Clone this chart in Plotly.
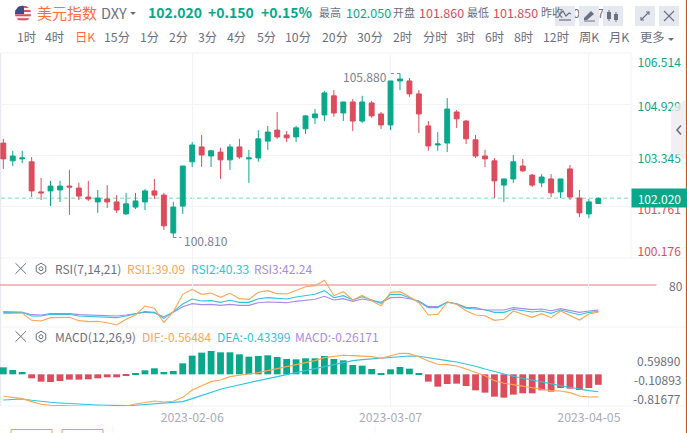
import numpy as np
import plotly.graph_objects as go

W, H = 687, 433

# ---- data ----
opens = [103.73,103.18,103.24,103.15,102.22,102.25,102.28,102.40,102.34,102.06,101.91,102.00,101.91,101.54,101.75,101.91,102.25,102.12,100.95,101.78,103.15,103.61,103.33,103.45,103.21,103.61,103.24,103.27,103.79,104.13,103.98,103.92,104.17,104.51,104.60,105.19,104.66,105.00,104.41,104.97,104.63,104.29,105.65,105.65,105.25,104.26,103.67,103.73,104.69,104.41,103.83,103.33,103.18,102.43,102.62,103.02,102.74,102.50,102.62,102.22,102.93,102.03,101.54,101.86]
highs = [103.86,103.49,103.49,103.30,102.65,102.56,102.56,102.90,102.50,102.56,102.28,102.43,102.12,102.19,102.19,102.31,102.62,102.19,101.91,103.02,103.76,103.98,103.52,103.58,103.70,103.86,103.52,104.13,104.26,104.69,104.10,104.26,104.60,104.78,105.34,105.37,105.00,105.09,105.19,105.03,104.69,105.65,105.88,105.74,105.37,104.41,104.07,105.12,104.75,104.44,103.98,103.52,103.27,102.62,103.36,103.24,102.77,102.77,102.77,102.62,103.05,102.28,102.00,102.05]
lows = [102.93,103.02,103.11,102.06,101.97,101.78,101.91,101.51,101.97,101.94,101.57,101.72,101.57,101.51,101.69,101.66,102.00,101.04,100.81,101.54,102.99,102.99,102.99,102.62,102.90,103.24,102.50,103.15,103.52,103.86,103.76,103.76,104.01,104.32,104.41,104.54,104.41,104.10,104.35,104.51,104.17,104.13,105.37,105.16,104.04,103.49,103.49,103.45,104.20,103.70,103.27,102.99,102.03,101.91,102.50,102.84,102.37,102.37,102.06,102.03,101.97,101.44,101.41,101.85]
closes = [103.24,103.33,103.27,102.25,102.19,102.40,102.40,102.37,102.09,102.00,102.03,101.91,101.66,101.85,101.94,102.25,102.12,101.17,101.75,103.02,103.67,103.36,103.49,103.21,103.61,103.30,103.27,103.86,104.07,103.92,103.89,104.20,104.57,104.63,105.28,104.66,105.00,104.41,105.00,104.57,104.29,105.65,105.71,105.25,104.63,103.64,103.70,104.78,104.48,103.86,103.33,103.24,102.56,102.62,103.15,102.87,102.43,102.68,102.19,102.62,102.06,101.57,101.91,102.02]

rsi1 = [37,38,38,27,26,31,31.5,31.5,26.5,25,25.5,23.5,20,28.5,35,48.5,45,23.5,40,66,73.5,66,68,61.5,67.5,59.5,58.5,69,71.5,67,66.5,72.5,77.5,79,87,64,70,57.5,64.5,56.5,49,69,70,62.5,53.5,35,36,54,51,41.5,35,34,27,28.5,41,36,31.5,37,31,41,34,27.5,36.5,39.09]
rsi2 = [39,39,39,33.5,33.5,36,36,36,33.5,33,33,32,31,33.5,37,40,39,30,40,51.5,59,56,56.5,54,57,54,54,59.5,61,59.5,59,62,64,66,71.5,61,64,57.5,62.5,57.5,52.5,66,66,61,55,46,46,54.5,51.5,45,43.5,43,39,39,43.5,41.5,39.5,41,37.5,42.5,38.5,35.5,39,40.33]
rsi3 = [40,40,39,35.5,35,37,37,37,35.5,35,35,34.5,33.5,35,37,39,38,32.5,39,47.5,52,50.5,51,49.5,51,49.5,49.5,53.5,54.5,53.5,53.5,55.5,57,58.5,63,57.5,59.5,55.5,59,56,54,61,61.5,59.5,56,47.5,47.5,54.5,52,46.5,46,42.5,42.5,42.5,46,44.5,43,44,41.5,44.5,41.5,39,41,42.24]

dif = [-.55,-.583,-.608,-.683,-.75,-.775,-.783,-.792,-.8,-.808,-.808,-.808,-.808,-.792,-.742,-.7,-.667,-.692,-.675,-.575,-.392,-.283,-.183,-.142,-.058,-.025,0,.042,.092,.142,.192,.225,.275,.342,.417,.442,.475,.467,.45,.442,.4,.467,.525,.517,.442,.333,.25,.242,.208,.133,.05,-.033,-.158,-.225,-.258,-.3,-.35,-.375,-.408,-.417,-.458,-.542,-.567,-.56484]
dea = [-.642,-.625,-.617,-.65,-.683,-.7,-.717,-.733,-.742,-.758,-.767,-.775,-.783,-.783,-.775,-.758,-.742,-.725,-.717,-.683,-.608,-.525,-.442,-.375,-.317,-.258,-.208,-.158,-.108,-.058,-.008,.033,.075,.125,.183,.233,.292,.342,.367,.383,.392,.408,.442,.458,.45,.408,.375,.342,.308,.258,.2,.133,.067,0,-.05,-.1,-.15,-.2,-.242,-.283,-.325,-.375,-.408,-.43399]
macd = [.175,.108,.058,-.1,-.183,-.192,-.167,-.133,-.133,-.125,-.1,-.075,-.075,-.025,.033,.1,.15,.058,.083,.275,.467,.542,.583,.55,.55,.5,.442,.458,.475,.433,.383,.375,.4,.4,.458,.383,.35,.233,.217,.133,.025,.125,.183,.142,.017,-.183,-.308,-.242,-.233,-.292,-.4,-.458,-.558,-.583,-.508,-.475,-.475,-.4,-.433,-.342,-.358,-.392,-.342,-.26171]

date_pos = [20, 41, 62]
date_labels = ["2023-02-06", "2023-03-07", "2023-04-05"]
price_ticks = [106.514, 104.929, 103.345, 101.761, 100.176]
price_labels = ["106.514", "104.929", "103.345", "101.761", "100.176"]
macd_labels = ["0.59890", "-0.10893", "-0.81677"]
periods = ["1时","4时","日K","15分","1分","2分","3分","4分","5分","10分","20分","30分","2时","分时","3时","6时","8时","12时","周K","月K","更多"]
period_x = [16,44,74,103,139,168,197,226,255.5,284,320.5,356,392,421.5,455,484,512.5,542,578,608,639]
prev_close_label = "101.870"

n = len(closes)
assert all(len(a) == n for a in [opens, highs, lows, rsi1, rsi2, rsi3, dif, dea, macd])

GREEN, RED = "#0aa88a", "#dc4c5c"
ORANGE, CYAN, PURPLE = "#ffa552", "#2ec5dd", "#a68bea"
GRAY, GRID = "#6b6f82", "#f2f3f8"
FONT = "Noto Sans CJK SC"

px = lambda x: x / W
py = lambda y: 1 - y / H
price_to_px = lambda v: 53 + (price_ticks[0] - v) * 205 / (price_ticks[0] - price_ticks[-1])

xs = list(range(n))
fig = go.Figure()
fig.add_trace(go.Candlestick(x=xs, open=opens, high=highs, low=lows, close=closes, yaxis="y", whiskerwidth=0,
    increasing=dict(line=dict(color=GREEN, width=1), fillcolor=GREEN),
    decreasing=dict(line=dict(color=RED, width=1), fillcolor=RED), hoverinfo="skip"))
for name, vals, col in [("RSI3", rsi3, PURPLE), ("RSI2", rsi2, CYAN), ("RSI1", rsi1, ORANGE)]:
    fig.add_trace(go.Scatter(x=xs, y=vals, yaxis="y2", mode="lines", name=name, line=dict(color=col, width=1.1), cliponaxis=False))
fig.add_trace(go.Bar(x=xs, y=macd, yaxis="y3", width=0.72, name="MACD",
                     marker=dict(color=[GREEN if v >= 0 else RED for v in macd], line=dict(width=0))))
fig.add_trace(go.Scatter(x=xs, y=dea, yaxis="y3", mode="lines", name="DEA", line=dict(color=CYAN, width=1.1), cliponaxis=False))
fig.add_trace(go.Scatter(x=xs, y=dif, yaxis="y3", mode="lines", name="DIF", line=dict(color=ORANGE, width=1.1), cliponaxis=False))

# text that sits beneath the header buttons and the edge handle, on a full-page overlay axis
fig.add_trace(go.Scatter(x=[566], y=[14.5], xaxis="x2", yaxis="y4", mode="text", text=[prev_close_label], textposition="middle right",
                         textfont=dict(color=GRAY, size=12.5, family=FONT), cliponaxis=False))
for v, lab in zip(price_ticks, price_labels):
    col = GREEN if v > closes[-1] else RED
    sh = {106.514: 10.5, 100.176: -5}.get(v, 4)
    fig.add_trace(go.Scatter(x=[637.5], y=[price_to_px(v) + sh], xaxis="x2", yaxis="y4", mode="text", text=[lab], textposition="middle right",
                             textfont=dict(color=col, size=12, family=FONT), cliponaxis=False))

ann, shp = [], []

def T(x, y, s, color=GRAY, size=12, anchor="left", weight=None):
    txt = f"<b>{s}</b>" if weight else s
    ann.append(dict(x=px(x), y=py(y - 0.5), xref="paper", yref="paper", text=txt, showarrow=False, xanchor=anchor,
                    yanchor="middle", font=dict(color=color, size=size, family=FONT), borderpad=0))

def P(pts, color=GRAY, width=1.2, fill=None, close=False, layer="above"):
    d = "M" + " L".join(f"{px(a):.5f},{py(b):.5f}" for a, b in pts) + (" Z" if close else "")
    shp.append(dict(type="path", path=d, xref="paper", yref="paper", layer=layer,
                    line=dict(color=color, width=width) if width else dict(width=0),
                    fillcolor=fill if fill else "rgba(0,0,0,0)"))

def chord(cx, cy, r, y0, y1, color, xmax=None):
    """region of a circle between two horizontal lines"""
    ys = np.linspace(y0, y1, 8)
    halves = np.sqrt(np.maximum(r**2 - (ys - cy)**2, 0))
    right = cx + halves if xmax is None else np.minimum(cx + halves, xmax)
    pts = list(zip(cx - halves, ys)) + list(zip(right[::-1], ys[::-1]))
    P(pts, width=0, fill=color, close=True)

# flag
cx, cy, r = 23, 13.5, 8
chord(cx, cy, r, cy - r, cy + r, "#f4f0f0")
for k in range(4):
    chord(cx, cy, r, cy - r + 0.5 + 4.1 * k, cy - r + 2.5 + 4.1 * k, "#d9505f")
chord(cx, cy, r, cy - r, cy + 0.5, "#3f4c86", xmax=cx + 1)

# header text
T(36, 13, "美元指数", "#ff6d3f", 15)
T(100, 13, "DXY", GRAY, 14.5)
P([(130, 12), (136, 12), (133, 15)], GRAY, 0, GRAY, True)
T(146.5, 13, "102.020", GREEN, 14, weight=True)
T(207, 13, "+0.150", GREEN, 14, weight=True)
T(260, 13, "+0.15%", GREEN, 14, weight=True)
T(318, 13, "最高", GRAY, 11)
T(345, 13, "102.050", GREEN, 12.5)
T(391.5, 13, "开盘", GRAY, 11)
T(418, 13, "101.860", RED, 12.5)
T(465.5, 13, "最低", GRAY, 11)
T(492, 13, "101.850", RED, 12.5)
T(540, 13, "昨收", GRAY, 11)

# buttons
for bx in [555, 579, 603, 635, 659]:
    shp.append(dict(type="rect", xref="paper", yref="paper", x0=px(bx), x1=px(bx + 20), y0=py(26), y1=py(6),
                    layer="above", fillcolor="#e6e8ef", line=dict(width=0)))
P([(559, 15), (563, 11), (566, 16), (569, 13), (571, 14)], GRAY, 1.2)
P([(559, 20), (571, 20)], GRAY, 1.2)
P([(584, 18), (591, 11), (594, 14), (587, 20), (584, 20)], GRAY, 0, GRAY, True)
P([(584, 21), (595, 21)], GRAY, 1)
P([(609, 10), (609, 21)], GRAY, 1)
P([(616, 12), (616, 22)], GRAY, 1)
P([(607, 12), (611, 12), (611, 19), (607, 19)], GRAY, 0, GRAY, True)
P([(614, 14), (618, 14), (618, 20), (614, 20)], GRAY, 0, GRAY, True)
P([(641, 20), (645, 16)], GRAY, 1.1); P([(649, 12), (645, 16)], GRAY, 1.1)
P([(641, 17), (641, 20), (644, 20)], GRAY, 1.1); P([(646, 12), (649, 12), (649, 15)], GRAY, 1.1)
P([(664, 11), (674, 21)], GRAY, 1.1); P([(674, 11), (664, 21)], GRAY, 1.1)

# period row
for lab, x in zip(periods, period_x):
    T(x, 37.5, lab, "#ff6d3f" if lab == "日K" else GRAY, 12.3)
P([(668, 38), (674, 38), (671, 41)], GRAY, 0, GRAY, True)

# frame lines
for y, x1 in [(53, 631), (258, 686), (327, 686), (406, 683)]:
    P([(1, y), (x1, y)], GRID, 1, layer="below")
P([(631, 53), (631, 258)], GRID, 1, layer="below")
P([(0.5, 53), (0.5, 406)], "#e9ebf4", 1.5, layer="below")
P([(686.5, 0), (686.5, H)], "#c0591a", 1.2)

# last-price dashed line
shp.append(dict(type="line", xref="paper", yref="y", x0=px(1), x1=px(631), y0=closes[-1], y1=closes[-1], layer="below",
                line=dict(color="#a8e6cf", width=1.5, dash="4px,3px")))

# 80 line of RSI
shp.append(dict(type="line", xref="paper", yref="y2", x0=0, x1=px(656.5), y0=80, y1=80, layer="below",
                line=dict(color="#f6a3ab", width=1.6)))

# extreme labels
hi, lo = int(np.argmax(highs)), int(np.argmin(lows))
for idx, val, sign, lab, gap, shift in [(hi, highs[hi], -1, "105.880", 1.15, -3), (lo, lows[lo], 1, "100.810", 0.95, -3)]:
    shp.append(dict(type="line", xref="x", yref="y", x0=idx, x1=idx + sign * gap * 0.9, y0=val, y1=val, layer="above",
                    line=dict(color="#85889a", width=1, dash="dot")))
    ann.append(dict(x=idx + sign * gap, y=val, xref="x", yref="y", text=lab, showarrow=False,
                    xanchor="right" if sign < 0 else "left", yanchor="middle", yshift=shift,
                    font=dict(color="#7d8093", size=12, family=FONT)))

# handle at the right edge, translucent over the price labels
shp.append(dict(type="path", xref="paper", yref="paper", layer="above", line=dict(width=0), fillcolor="rgba(233,234,240,0.75)",
                path="M" + " L".join(f"{px(a):.5f},{py(b):.5f}" for a, b in [(686, 100), (671, 108), (671, 152), (686, 160)]) + " Z"))
P([(681, 125.5), (677, 130), (681, 134.5)], GRAY, 1.6)

ann.append(dict(x=px(631), y=closes[-1], xref="paper", yref="y", text=f"{closes[-1]:.3f}", showarrow=False, xanchor="left",
                yanchor="middle", width=55, height=18, bgcolor=GREEN, align="center", borderpad=0,
                font=dict(color="white", size=12, family=FONT)))

# right-hand labels of lower panels
T(668, 285.7, "80", GRAY, 12)
T(681.5, 360.7, macd_labels[0], GRAY, 12, "right")
T(681.5, 380, macd_labels[1], GRAY, 12, "right")
T(681.5, 398.7, macd_labels[2], GRAY, 12, "right")

# indicator titles
for y, title, items in [
    (268.7, "RSI(7,14,21)", [(126, f"RSI1:{rsi1[-1]:.2f}", ORANGE), (190, f"RSI2:{rsi2[-1]:.2f}", CYAN), (253, f"RSI3:{rsi3[-1]:.2f}", PURPLE)]),
    (336.7, "MACD(12,26,9)", [(141, f"DIF:{dif[-1]:.5f}", ORANGE), (216, f"DEA:{dea[-1]:.5f}", CYAN), (294, f"MACD:{macd[-1]:.5f}", PURPLE)]),
]:
    P([(15.5, y - 5.5), (26, y + 5)], GRAY, 1); P([(26, y - 5.5), (15.5, y + 5)], GRAY, 1)
    hexa = [(41 + 5.5 * np.sin(a), y + 5.5 * np.cos(a)) for a in np.arange(6) * np.pi / 3]
    P(hexa, GRAY, 1, close=True)
    hexb = [(41 + 2 * np.sin(a), y + 2 * np.cos(a)) for a in np.arange(8) * np.pi / 4]
    P(hexb, GRAY, 1, close=True)
    T(54, y, title, GRAY, 12)
    for x, s, c in items:
        T(x, y, s, c, 12)

# bottom stubs
for a, b in [(11, 52), (62, 103)]:
    P([(a, 434), (a, 429.5), (b, 429.5), (b, 434)], "#d9a860", 1)
P([(113, 425), (113, 433)], GRID, 1); P([(375, 425), (375, 433)], GRID, 1)

fig.update_layout(
    width=W, height=H, autosize=False, margin=dict(l=0, r=0, t=0, b=0),
    paper_bgcolor="white", plot_bgcolor="rgba(0,0,0,0)", showlegend=False, barmode="overlay", boxgap=0.26, hovermode=False,
    font=dict(family=FONT),
    xaxis=dict(domain=[0, px(631)], range=[-0.35, 66.46], anchor="y3", tickvals=date_pos, ticktext=date_labels,
               tickfont=dict(color="#a9abbd", size=12.3, family=FONT), ticks="", showline=False, zeroline=False,
               ticklabelstandoff=3, showgrid=True, gridcolor=GRID, gridwidth=1, rangeslider=dict(visible=False)),
    xaxis2=dict(domain=[0, 1], range=[0, W], visible=False, anchor="y4"),
    yaxis=dict(domain=[py(258), py(53)], range=[price_ticks[-1], price_ticks[0]], tickvals=price_ticks, showticklabels=False,
               showgrid=True, gridcolor=GRID, zeroline=False, ticks="", anchor="x"),
    yaxis2=dict(domain=[py(327), py(258)], range=[17, 120.5], showticklabels=False, showgrid=False, zeroline=False, ticks="", anchor="x"),
    yaxis3=dict(domain=[py(406), py(327)], range=[-0.792, 1.183], showticklabels=False, showgrid=False, zeroline=False, ticks="", anchor="x"),
    yaxis4=dict(domain=[0, 1], range=[H, 0], visible=False, anchor="x2"),
    annotations=ann, shapes=shp,
)
fig.write_html("out.html", post_script="document.body.style.margin='0';", config={"displayModeBar": False})
